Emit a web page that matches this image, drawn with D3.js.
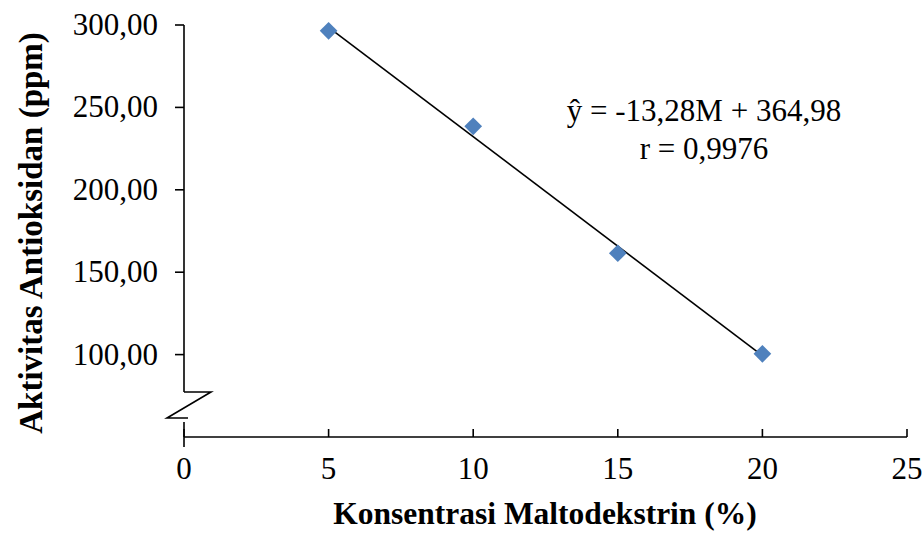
<!DOCTYPE html>
<html>
<head>
<meta charset="utf-8">
<script src="https://cdn.jsdelivr.net/npm/d3@7"></script>
<style>
  body { margin: 0; background: #fff; }
  text { font-family: "Liberation Serif", "Times New Roman", serif; fill: #000; }
</style>
</head>
<body>
<div id="plot"></div>
<script>
// data
const konsentrasi = [5, 10, 15, 20];
const aktivitas = [296.5, 238.5, 161.5, 100.5];
const xTicks = [0, 5, 10, 15, 20, 25];
const yTicks = [100, 150, 200, 250, 300];
const slope = -13.28;
const intercept = 364.98;

const svg = d3.select("#plot")
    .append("svg")
    .attr("width", 923)
    .attr("height", 539);

const x = d3.scaleLinear().domain([0, 25]).range([184, 907]);
const y = d3.scaleLinear().domain([50, 300]).range([437, 25]);

const fmt = d => d.toFixed(2).replace(".", ",");

// y axis (with break)
const yAxis = svg.append("g").attr("stroke", "#000").attr("stroke-width", 1.6).attr("fill", "none");
yAxis.append("line").attr("x1", x(0)).attr("x2", x(0)).attr("y1", y(300)).attr("y2", 392);
yAxis.append("path").attr("d", "M" + x(0) + ",392 L211,392 L167,418 L188,418");
yAxis.append("line").attr("x1", x(0)).attr("x2", x(0)).attr("y1", 422).attr("y2", 447);

yAxis.selectAll("line.tick").data(yTicks).enter().append("line")
    .attr("class", "tick")
    .attr("x1", x(0) - 9).attr("x2", x(0))
    .attr("y1", d => y(d)).attr("y2", d => y(d));

svg.selectAll("text.ylab").data(yTicks).enter().append("text")
    .attr("class", "ylab")
    .attr("x", 158)
    .attr("y", d => y(d) + 10)
    .attr("text-anchor", "end")
    .attr("font-size", 31)
    .text(fmt);

// x axis
const xAxis = svg.append("g").attr("stroke", "#000").attr("stroke-width", 1.6);
xAxis.append("line").attr("x1", x(0)).attr("x2", x(25)).attr("y1", y(50)).attr("y2", y(50));
xAxis.selectAll("line.tick").data(xTicks).enter().append("line")
    .attr("class", "tick")
    .attr("x1", d => x(d)).attr("x2", d => x(d))
    .attr("y1", y(50)).attr("y2", y(50) - 8);

svg.selectAll("text.xlab").data(xTicks).enter().append("text")
    .attr("class", "xlab")
    .attr("x", d => x(d))
    .attr("y", 479)
    .attr("text-anchor", "middle")
    .attr("font-size", 31)
    .text(d => d);

// titles
svg.append("text")
    .attr("x", 545)
    .attr("y", 524)
    .attr("text-anchor", "middle")
    .attr("font-size", 31.5)
    .attr("font-weight", "bold")
    .text("Konsentrasi Maltodekstrin (%)");

svg.append("text")
    .attr("transform", "translate(42,233) rotate(-90)")
    .attr("text-anchor", "middle")
    .attr("font-size", 33)
    .attr("font-weight", "bold")
    .text("Aktivitas Antioksidan (ppm)");

// regression line
svg.append("line")
    .attr("x1", x(5)).attr("y1", y(slope * 5 + intercept))
    .attr("x2", x(20)).attr("y2", y(slope * 20 + intercept))
    .attr("stroke", "#000")
    .attr("stroke-width", 1.6);

// points
svg.selectAll("path.pt").data(konsentrasi).enter().append("path")
    .attr("class", "pt")
    .attr("d", d3.symbol().type(d3.symbolDiamond2).size(200))
    .attr("transform", (d, i) => "translate(" + x(d) + "," + y(aktivitas[i]) + ")")
    .attr("fill", "#4F81BD");

// equation
svg.append("text")
    .attr("x", 704).attr("y", 121)
    .attr("text-anchor", "middle")
    .attr("font-size", 31)
    .text("ŷ = -13,28M + 364,98");
svg.append("text")
    .attr("x", 704).attr("y", 159)
    .attr("text-anchor", "middle")
    .attr("font-size", 31)
    .text("r = 0,9976");
</script>
</body>
</html>
